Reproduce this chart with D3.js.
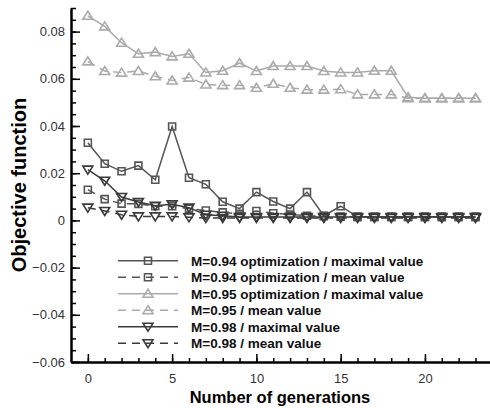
<!DOCTYPE html>
<html><head><meta charset="utf-8">
<script src="https://cdn.jsdelivr.net/npm/d3@7"></script>
<style>body{margin:0;background:#fff}svg{display:block}</style>
</head><body>
<svg id="c" width="490" height="408"></svg>
<script>
const generations = d3.range(0, 24);
const m094Max  = [0.0329,0.0240,0.0208,0.0232,0.0172,0.0398,0.0181,0.0153,0.0079,0.0050,0.0120,0.0080,0.0050,0.0120,0.0020,0.0060,0.0015,0.0015,0.0015,0.0015,0.0015,0.0015,0.0015,0.0015];
const m094Mean = [0.0130,0.0090,0.0071,0.0070,0.0060,0.0060,0.0050,0.0042,0.0034,0.0028,0.0040,0.0030,0.0025,0.0020,0.0018,0.0016,0.0015,0.0015,0.0015,0.0015,0.0015,0.0015,0.0015,0.0015];
const m095Max  = [0.0867,0.0822,0.0753,0.0706,0.0713,0.0695,0.0706,0.0627,0.0634,0.0667,0.0633,0.0654,0.0654,0.0654,0.0633,0.0627,0.0627,0.0634,0.0634,0.0522,0.0518,0.0518,0.0518,0.0518];
const m095Mean = [0.0674,0.0633,0.0626,0.0633,0.0611,0.0593,0.0605,0.0576,0.0573,0.0573,0.0562,0.0579,0.0562,0.0554,0.0554,0.0556,0.0534,0.0534,0.0534,0.0518,0.0518,0.0518,0.0518,0.0518];
const m098Max  = [0.0215,0.0168,0.0099,0.0078,0.0062,0.0068,0.0054,0.0024,0.0020,0.0014,0.0014,0.0014,0.0014,0.0014,0.0014,0.0014,0.0014,0.0014,0.0014,0.0014,0.0014,0.0014,0.0014,0.0014];
const m098Mean = [0.0054,0.0040,0.0024,0.0017,0.0017,0.0017,0.0013,0.0010,0.0010,0.0010,0.0010,0.0010,0.0010,0.0010,0.0010,0.0010,0.0010,0.0010,0.0010,0.0010,0.0010,0.0010,0.0010,0.0010];
const xTicks = [0,5,10,15,20];
const yTicks = [-0.06,-0.04,-0.02,0,0.02,0.04,0.06,0.08];
const seriesNames = ["M=0.94 optimization / maximal value","M=0.94 optimization / mean value","M=0.95 optimization / maximal value","M=0.95 / mean value","M=0.98 / maximal value","M=0.98 / mean value"];

const series = [
  {name:seriesNames[0], v:m094Max,  color:"#555", dash:null, marker:"square"},
  {name:seriesNames[1], v:m094Mean, color:"#555", dash:"8,6", marker:"square"},
  {name:seriesNames[2], v:m095Max,  color:"#aaa", dash:null, marker:"up"},
  {name:seriesNames[3], v:m095Mean, color:"#aaa", dash:"8,6", marker:"up"},
  {name:seriesNames[4], v:m098Max,  color:"#3a3a3a", dash:null, marker:"down"},
  {name:seriesNames[5], v:m098Mean, color:"#3a3a3a", dash:"8,6", marker:"down"}
];

const svg = d3.select("#c");
const x = d3.scaleLinear().domain([-1, 23.86]).range([71, 490]);
const y = d3.scaleLinear().domain([-0.06, 0.09]).range([362, 8]);

const font = "'Liberation Sans', Arial, sans-serif";
const xMajor = d3.axisBottom(x).tickValues(xTicks).tickSizeInner(-8).tickSizeOuter(0).tickPadding(12).tickFormat(d3.format("d"));
const xMinor = d3.axisBottom(x).tickValues(d3.range(0, 24)).tickSizeInner(-4).tickSizeOuter(0).tickFormat("");
const yMajor = d3.axisLeft(y).tickValues(yTicks).tickSizeInner(-9).tickSizeOuter(0).tickPadding(6).tickFormat(d => d === 0 ? "0" : d3.format(".2f")(d));
const yMinor = d3.axisLeft(y).tickValues(d3.range(-12, 19).map(i => i * 0.005)).tickSizeInner(-5).tickSizeOuter(0).tickFormat("");

function style(g){
  g.select(".domain").attr("stroke","#000").attr("stroke-width",2);
  g.selectAll(".tick line").attr("stroke","#000").attr("stroke-width",1.5);
  g.selectAll(".tick text").attr("fill","#333").style("font-family",font).style("font-size","13px");
}
svg.append("g").attr("transform","translate(0,362)").call(xMinor).call(style);
svg.append("g").attr("transform","translate(0,362)").call(xMajor).call(style);
svg.append("g").attr("transform","translate(71,0)").call(yMinor).call(style);
svg.append("g").attr("transform","translate(71,0)").call(yMajor).call(style);

svg.append("text").attr("x", 280).attr("y", 403).attr("text-anchor","middle")
  .style("font-family",font).style("font-weight","bold").style("font-size","16.5px").text("Number of generations");
svg.append("text").attr("transform","translate(26,185) rotate(-90)").attr("text-anchor","middle")
  .style("font-family",font).style("font-weight","bold").style("font-size","20px").text("Objective function");

function markerPath(type){
  if(type==="square") return "M-3.5,-3.5H3.5V3.5H-3.5Z";
  if(type==="up") return "M0,-4.5L5,3.5H-5Z";
  return "M0,4.5L5,-3.5H-5Z";
}

const line = d3.line().x((d,i)=>x(generations[i])).y(d=>y(d));
const drawOrder = [2,3,0,1,4,5];
drawOrder.forEach(k=>{
  const s = series[k];
  const g = svg.append("g");
  g.append("path").attr("d", line(s.v)).attr("fill","none").attr("stroke",s.color)
    .attr("stroke-width",1.5).attr("stroke-dasharray",s.dash);
  g.selectAll("path.m").data(s.v).enter().append("path").attr("class","m")
    .attr("transform",(d,i)=>`translate(${x(generations[i])},${y(d)})`)
    .attr("d", markerPath(s.marker)).attr("fill","none").attr("stroke",s.color).attr("stroke-width",1.6);
});

const lg = svg.append("g");
series.forEach((s,i)=>{
  const yy = 260.7 + i*16.5;
  lg.append("line").attr("x1",118).attr("x2",178).attr("y1",yy).attr("y2",yy)
    .attr("stroke",s.color).attr("stroke-width",1.5).attr("stroke-dasharray",s.dash);
  lg.append("path").attr("transform",`translate(148,${yy})`).attr("d",markerPath(s.marker))
    .attr("fill","none").attr("stroke",s.color).attr("stroke-width",1.6);
  lg.append("text").attr("x",191).attr("y",yy+4.8).style("font-family",font).style("font-weight","bold")
    .style("font-size","13.5px").attr("fill","#111").text(s.name);
});
</script>
</body></html>
